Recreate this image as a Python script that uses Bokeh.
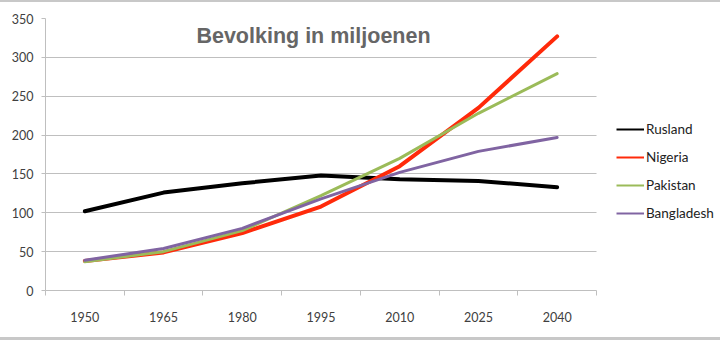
from bokeh.plotting import figure
from bokeh.models import FixedTicker, Label, Legend, LegendItem
from bokeh.embed import file_html
from bokeh.resources import INLINE

years = ["1950", "1965", "1980", "1995", "2010", "2025", "2040"]
rusland = [102, 126, 138, 148, 143, 141, 133]
nigeria = [38, 49, 74, 108, 160, 235, 327]
pakistan = [37, 50, 77, 122, 170, 228, 279]
bangladesh = [39, 54, 80, 118, 152, 179, 197]
y_ticks = [0, 50, 100, 150, 200, 250, 300, 350]

series = [
    ("Rusland", rusland, "#000000", 4),
    ("Nigeria", nigeria, "#ff2a0a", 4),
    ("Pakistan", pakistan, "#9bbb59", 3),
    ("Bangladesh", bangladesh, "#8064a2", 3),
]

xs = list(range(len(years)))
n = len(years)

# plot area spans 551 px for the categories; frame extends to the right edge for the legend
plot_px = 551.0
frame_px = 720 - 45
x_end = -0.5 + n * frame_px / plot_px

FONT = "Lato"

p = figure(width=720, height=340, output_backend="svg", toolbar_location=None,
           x_range=(-0.5, x_end), y_range=(0, 350),
           min_border_left=45, min_border_right=0, min_border_top=18, min_border_bottom=50)
p.border_fill_color = None
p.background_fill_color = None
p.outline_line_color = None
p.styles = {"box-shadow": "inset 0 2px 0 #c8c8c8, inset 0 -3px 0 #c8c8c8", "background": "white"}

# axes
p.xaxis.bounds = (-0.5, n - 0.5)
p.xaxis.ticker = FixedTicker(ticks=xs, minor_ticks=[i - 0.5 for i in range(n + 1)])
p.xaxis.major_label_overrides = {i: y for i, y in enumerate(years)}
p.xaxis.major_tick_line_color = None
p.xaxis.minor_tick_line_color = "#bfbfbf"
p.xaxis.minor_tick_in = 0
p.xaxis.minor_tick_out = 5
p.xaxis.axis_line_color = "#bfbfbf"
p.xaxis.major_label_standoff = 15
p.xaxis.major_label_text_font = FONT
p.xaxis.major_label_text_font_size = "12.5px"
p.xaxis.major_label_text_color = "#404040"

p.yaxis.ticker = FixedTicker(ticks=y_ticks)
p.yaxis.minor_tick_line_color = None
p.yaxis.major_tick_line_color = "#bfbfbf"
p.yaxis.major_tick_in = 0
p.yaxis.major_tick_out = 4
p.yaxis.axis_line_color = "#bfbfbf"
p.yaxis.major_label_standoff = 8
p.yaxis.major_label_text_font = FONT
p.yaxis.major_label_text_font_size = "12.5px"
p.yaxis.major_label_text_color = "#404040"

p.xgrid.grid_line_color = None
p.ygrid.grid_line_color = "#bfbfbf"
p.ygrid.grid_line_width = 1
p.ygrid.cross_bounds = (-0.5, n - 0.5)

items = []
for name, vals, color, w in series:
    p.line(xs, vals, line_color=color, line_width=w, line_join="round", line_cap="round")
    # thinner swatch for the legend: a one-point line draws nothing in the plot
    swatch = p.line(xs[:1], vals[:1], line_color=color, line_width=2)
    items.append(LegendItem(label=name, renderers=[swatch]))

legend = Legend(items=items, location=(571, 67), padding=0, margin=0, spacing=8,
                glyph_width=28, glyph_height=20, label_height=20, label_standoff=2,
                border_line_color=None, background_fill_alpha=0,
                label_text_font=FONT, label_text_font_size="13.5px", label_text_color="#222222")
p.add_layout(legend)

title = Label(x=268, y=255, x_units="screen", y_units="screen", text="Bevolking in miljoenen",
              text_align="center", text_baseline="middle", text_font="Liberation Sans",
              text_font_style="bold", text_font_size="21.5px", text_color="#666666")
p.add_layout(title)

open("out.html", "w").write(file_html(p, INLINE))
